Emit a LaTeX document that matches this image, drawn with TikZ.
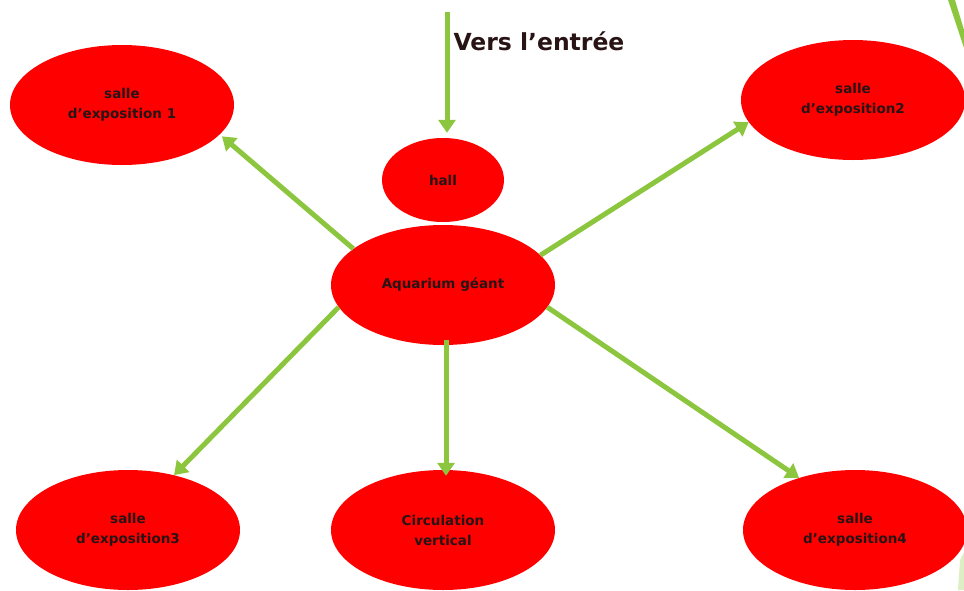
\documentclass[tikz,border=0pt]{standalone}
\usepackage{fontspec}
\setmainfont{Liberation Sans}
\newfontfamily\titre{DejaVu Sans}
\usetikzlibrary{arrows.meta,shapes.geometric,positioning}
\definecolor{rouge}{RGB}{255,0,0}
\definecolor{vert}{RGB}{140,198,63}
\definecolor{texte}{RGB}{40,20,20}

\begin{document}
\begin{tikzpicture}[x=1pt,y=-1pt,on grid,
		salle/.style={ellipse,fill=rouge,minimum width=224pt,minimum height=120pt,inner sep=0pt,
			align=center,text=texte,font=\titre\bfseries\fontsize{13.5}{20}\selectfont},
		petite/.style={salle,minimum width=122pt,minimum height=84pt},
		fleche/.style={draw=vert,line width=5pt,-{Triangle[length=13pt,width=17pt]}}]
		\useasboundingbox (0,0) rectangle (964,590);
		\clip (0,0) rectangle (964,590);
		% decor de la diapo
		\fill[vert] (948,0) -- (955,0) -- (964,30) -- (964,48) -- cycle;
		\fill[vert!30] (960,560) -- (964,552) -- (964,590) -- (958,590) -- cycle;
		\node[salle](aq) at (443,285) {Aquarium géant};
		\node[petite](hall)[above=105pt of aq] {hall};
		\node[salle](s1)[above left=180pt and 321pt of aq] {salle\\d’exposition 1};
		\node[salle](s2)[above right=185pt and 410pt of aq] {salle\\d’exposition2};
		\node[salle](s3)[below left=245pt and 315pt of aq] {salle\\d’exposition3};
		\node[salle](cv)[below=245pt of aq] {Circulation\\vertical};
		\node[salle](s4)[below right=245pt and 412pt of aq] {salle\\d’exposition4};
		\coordinate (entree) at (447,12);
		\path[fleche]
		(entree) -- node[right=4pt,anchor=west,inner sep=0pt,text=texte,font=\titre\bfseries\fontsize{23.5}{28}\selectfont,pos=0.24] {Vers l’entrée}
		([yshift=5pt]entree |- hall.north);
		\path[fleche] (aq.158) -- ([shift={(12pt,6pt)}]s1.-23);
		\path[fleche] (aq.17) -- (s2.192);
		\path[fleche] (aq.192) -- (s3.50);
		\path[fleche] ([xshift=3pt,yshift=5pt]aq.south) -- ([xshift=3pt,yshift=-6pt]cv.north);
		\path[fleche] (aq.-12) -- (s4.137);
\end{tikzpicture}
\end{document}
